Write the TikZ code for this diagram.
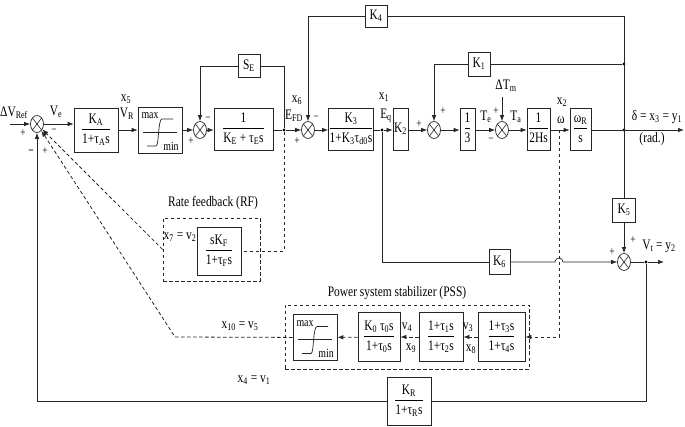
\documentclass[tikz,border=0pt]{standalone}
\usepackage{fontspec}
\setmainfont{Liberation Serif}[FakeStretch=0.79]
\usetikzlibrary{arrows.meta,shapes.geometric}
\newcommand{\fr}[2]{$\displaystyle\frac{\mbox{\strut #1}}{\mbox{\strut #2}}$}
\tikzset{
 ln/.style={line width=0.7pt, draw=black!85},
 arr/.style={ln, -{Latex[length=6pt,width=4.5pt]}},
 dsh/.style={dash pattern=on 3.5pt off 2.5pt, line width=0.8pt},
 blk/.style={draw=black!85, line width=0.7pt, inner sep=0pt, fill=white},
 sumj/.style={ellipse, draw=black!85, line width=0.7pt, minimum width=13pt, minimum height=17pt, inner sep=0pt,
   path picture={\draw[line width=0.6pt] (path picture bounding box.north west)--(path picture bounding box.south east)
   (path picture bounding box.south west)--(path picture bounding box.north east);}},
 dotn/.style={circle, fill=black, inner sep=0pt, minimum size=3.2pt},
 lb/.style={inner sep=0pt},
 sg/.style={inner sep=0pt, font=\fontsize{12}{13}\selectfont},
 sml/.style={inner sep=0pt, font=\fontsize{12.5}{13}\selectfont},
}
\newcommand{\limbox}[3]{%
 \node[blk, minimum width=44pt, minimum height=46pt] (#1) at (#2,#3) {};
 \begin{scope}[shift={(#2,#3)}]
  \draw[ln] (-17,2)--(17,2);
  \draw[ln] (-13,16)--(-4,16) .. controls (-1,16) and (-2,-11) .. (2,-11) -- (13,-11);
  \node[sml] (#1max) at (-10,-14) {max};
  \node[sml] (#1min) at (11,16) {min};
 \end{scope}}
\begin{document}
\begin{tikzpicture}[x=1pt,y=-1pt, every node/.style={font=\fontsize{14.5}{16}\selectfont}]
\useasboundingbox (0,0) rectangle (685,427);
% ---- main forward path
\coordinate (vref) at (10,124);
\node[sumj] (s1) at (37,124) {};
\node[blk, minimum width=44pt, minimum height=44pt] (ka) at (96,130) {\fr{K\textsubscript{A}}{1+τ\textsubscript{A}s}};
\limbox{lim1}{160}{130}
\node[sumj] (s2) at (200,130) {};
\node[blk, minimum width=59pt, minimum height=42pt] (ke) at (243.5,129) {\fr{1}{K\textsubscript{E} + τ\textsubscript{E}s}};
\node[blk, minimum width=22pt, minimum height=23pt] (se) at (249,66) {S\textsubscript{E}};
\node[dotn] (d6) at (284,130) {};
\node[sumj] (s3) at (308,130) {};
\node[blk, minimum width=44pt, minimum height=42pt] (k3) at (351,129) {\fr{K\textsubscript{3}}{1+K\textsubscript{3}τ\textsubscript{d0}s}};
\node[dotn] (d1) at (382,130) {};
\node[blk, minimum width=15pt, minimum height=42pt] (k2) at (400.5,129) {K\textsubscript{2}};
\node[sumj] (s4) at (434,130) {};
\node[blk, minimum width=15pt, minimum height=42pt] (g3) at (467.5,129) {\fr{1}{3}};
\node[sumj] (s5) at (502,130) {};
\node[blk, minimum width=23pt, minimum height=42pt] (hs) at (538.5,129) {\fr{1}{2Hs}};
\coordinate (x2) at (559,130);
\node[blk, minimum width=21pt, minimum height=42pt] (wr) at (580.5,129) {\fr{ω\textsubscript{R}}{s}};
\node[dotn] (dd) at (624,130) {};
\coordinate (out1) at (684,130);
% ---- feedback blocks
\node[blk, minimum width=22pt, minimum height=22pt] (k4) at (376,16) {K\textsubscript{4}};
\coordinate (k4r) at (624,16);
\node[blk, minimum width=22pt, minimum height=24pt] (k1) at (479,64) {K\textsubscript{1}};
\node[dotn] (dk1) at (624,64) {};
\coordinate (tm) at (502,97);
\node[blk, minimum width=23pt, minimum height=24pt] (k5) at (624,210) {K\textsubscript{5}};
\node[sumj] (s6) at (624,262) {};
\node[blk, minimum width=21pt, minimum height=25pt] (k6) at (499.5,262) {K\textsubscript{6}};
\node[dotn] (dv) at (646,262) {};
\coordinate (vout) at (664,262);
\node[blk, minimum width=44pt, minimum height=48pt] (kr) at (409,401) {\fr{K\textsubscript{R}}{1+τ\textsubscript{R}s}};
% ---- rate feedback
\node[draw=black!85, dsh, minimum width=97pt, minimum height=63pt, inner sep=0pt] (rfbox) at (211.5,249.5) {};
\node[blk, minimum width=44pt, minimum height=48pt] (rf) at (219,251) {\fr{sK\textsubscript{F}}{1+τ\textsubscript{F}s}};
% ---- PSS
\node[draw=black!85, dsh, minimum width=244pt, minimum height=64pt, inner sep=0pt] (pss) at (407,337) {};
\limbox{lim2}{315}{337.5}
\node[blk, minimum width=42pt, minimum height=49pt] (k0) at (379,337) {\fr{K\textsubscript{0} τ\textsubscript{0}s}{1+τ\textsubscript{0}s}};
\node[blk, minimum width=44pt, minimum height=49pt] (t1) at (441,337) {\fr{1+τ\textsubscript{1}s}{1+τ\textsubscript{2}s}};
\node[blk, minimum width=47pt, minimum height=49pt] (t3) at (501.5,337) {\fr{1+τ\textsubscript{3}s}{1+τ\textsubscript{4}s}};
\coordinate (pk) at (175,337);
% ---- connectors
\draw[arr] (vref) -- (s1);
\draw[arr] (s1) -- (ka.west |- s1);
\draw[arr] (ka) -- (lim1);
\draw[arr] (lim1) -- (s2);
\draw[arr] (s2) -- (ke.west |- s2);
\draw[ln] (ke.east |- d6) -- (d6);
\draw[arr] (d6) -- (s3);
\draw[ln] (d6) |- (se);
\draw[arr] (se) -| (s2);
\draw[arr] (s3) -- (k3.west |- s3);
\draw[ln] (k3.east |- d1) -- (d1);
\draw[arr] (d1) -- (k2.west |- d1);
\draw[arr] (k2.east |- s4) -- (s4);
\draw[arr] (s4) -- (g3.west |- s4);
\draw[arr] (g3.east |- s5) -- (s5);
\draw[arr] (s5) -- (hs.west |- s5);
\draw[arr] (hs.east |- x2) -- (wr.west |- x2);
\draw[arr] (wr.east |- dd) -- (out1);
\draw[ln] (k5) -- (k4r) -- (k4);
\draw[arr] (k4) -| (s3);
\draw[ln] (dk1) -- (k1);
\draw[arr] (k1) -| (s4);
\draw[arr] (tm) -- (s5);
\draw[arr] (k5) -- (s6);
\draw[ln] (d1) |- (k6);
\draw[arr] (k6.east) -- (555,262) arc[start angle=180, end angle=360, radius=4] -- (s6);
\draw[ln] (s6) -- (dv);
\draw[arr] (dv) -- (vout);
\draw[ln] (dv) |- (kr);
\draw[arr] (kr) -| (s1);
\draw[ln, dsh] (d6) |- (rf);
\draw[arr, dsh] (rfbox.west) -- (s1);
\draw[arr, dsh] (x2) |- (t3);
\draw[arr, dsh] (t3) -- (t1);
\draw[arr, dsh] (t1) -- (k0);
\draw[arr, dsh] (k0) -- (lim2);
\draw[arr, dsh] (lim2) -- (pk) -- (s1);
% ---- labels
\node[lb] (lvref) at (14,113) {ΔV\textsubscript{Ref}};
\node[lb] (lve) at (56,112) {V\textsubscript{e}};
\node[sg] (p1a) at (23,133) {+};
\node[sg] (p1b) at (31,152) {\textbf{−}};
\node[sg] (p1c) at (45,151) {+};
\node[sg] (p1d) at (54,131) {−};
\node[lb] (lx5) at (126,99) {x\textsubscript{5}};
\node[lb] (lvr) at (127,114) {V\textsubscript{R}};
\node[sg] (p2a) at (208,119) {−};
\node[sg] (p2b) at (191,141) {+};
\node[lb] (lx6) at (297,100) {x\textsubscript{6}};
\node[lb] (lefd) at (294,116) {E\textsubscript{FD}};
\node[sg] (p3a) at (316,118) {−};
\node[sg] (p3b) at (297,141) {+};
\node[lb] (lx1) at (384,97) {x\textsubscript{1}};
\node[lb] (leq) at (386,116) {E\textsubscript{q}};
\node[sg] (p4a) at (419,124) {+};
\node[sg] (p4b) at (443,111) {+};
\node[lb] (lte) at (486,117) {T\textsubscript{e}};
\node[sg] (p5a) at (491,140) {−};
\node[sg] (p5b) at (496,111) {+};
\node[lb] (ltm) at (506,86) {ΔT\textsubscript{m}};
\node[lb] (lta) at (516,117) {T\textsubscript{a}};
\node[lb] (lx2) at (562,102) {x\textsubscript{2}};
\node[lb] (lw) at (561,120) {ω};
\node[lb] (ldel) at (657,117) {δ = x\textsubscript{3} = y\textsubscript{1}};
\node[lb] (lrad) at (652,139) {(rad.)};
\node[sg] (p6a) at (633,240) {+};
\node[sg] (p6b) at (612,252) {+};
\node[lb] (lvt) at (659,246) {V\textsubscript{t} = y\textsubscript{2}};
\node[lb] (lx4) at (254,380) {x\textsubscript{4} = v\textsubscript{1}};
\node[lb] (lrf) at (213,203) {Rate feedback (RF)};
\node[lb] (lx7) at (180,237) {x\textsubscript{7} = v\textsubscript{2}};
\node[lb] (lpss) at (397,293) {Power system stabilizer (PSS)};
\node[lb] (lx10) at (240,326) {x\textsubscript{10} = v\textsubscript{5}};
\node[lb] (lv4) at (407,327) {v\textsubscript{4}};
\node[lb] (lx9) at (411,348) {x\textsubscript{9}};
\node[lb] (lv3) at (468,327) {v\textsubscript{3}};
\node[lb] (lx8) at (471,349) {x\textsubscript{8}};
\end{tikzpicture}
\end{document}
